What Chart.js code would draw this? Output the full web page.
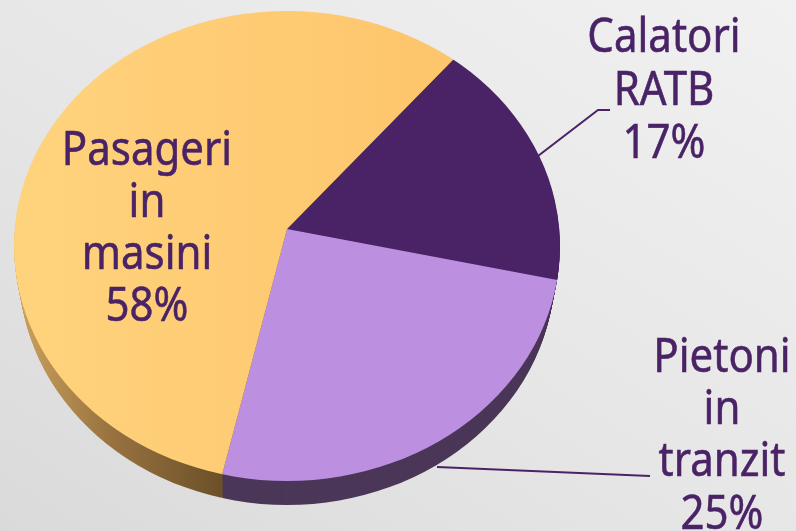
<!DOCTYPE html>
<html><head><meta charset="utf-8">
<style>
html,body{margin:0;padding:0;width:796px;height:531px;overflow:hidden;background:linear-gradient(32deg,#dadada 0%,#e6e6e6 45%,#f1f1f1 100%);}
canvas{display:block}
</style>
<script src="https://cdn.jsdelivr.net/npm/chart.js@4"></script>
</head><body><canvas id="c" width="796" height="531"></canvas>
<script>
const categories = ['Calatori RATB', 'Pietoni in tranzit', 'Pasageri in masini'];
const shares = [17, 25, 58];
const faceColors = ['#4a2366', '#bc8fe0', '#fecb73'];
const sideColors = ['#3c2250', '#4b3758', '#6b4f28'];
const labelLines = [
  {lines:['Calatori','RATB','17%'], x:664, y:[52,105,158]},
  {lines:['Pietoni','in','tranzit','25%'], x:722, y:[372,424,476,529]},
  {lines:['Pasageri','in','masini','58%'], x:147, y:[165,217,269,321]}
];
const leaders = [
  [[538,156],[598,110],[610,110]],
  [[437,467],[650,476]]
];
const TEXT = '#4a2366';
const E = {cx:287, cy:246, rx:273, ry:235};
const APEX_Y = 229;
const SX = 1.2*273/218, SUP = SX/1.17, SDOWN = SX/1.048, SXL = 1.334*SDOWN;
const DEPTH = 24, SHRINK = 5;

function paint(ctx, arcs, dy, shrink, fills){
  const cx = arcs[0].x, cy = arcs[0].y;
  const ay = APEX_Y+dy;
  [[0,0,796,ay,SX,SUP],[cx,ay,796-cx,531-ay,SX,SDOWN],[0,ay,cx,531-ay,SXL,SDOWN]].forEach(([l,top,w,h,sx,sy])=>{
    ctx.save();
    ctx.beginPath();
    ctx.rect(l,top,w,h);
    ctx.clip();
    ctx.beginPath();
    ctx.ellipse(E.cx,E.cy+dy,E.rx-shrink,E.ry,0,0,Math.PI*2);
    ctx.clip();
    ctx.translate(cx,cy+dy);
    ctx.scale(sx,sy);
    ctx.translate(-cx,-cy);
    arcs.forEach((a,i)=>{
      const o = a.options;
      a.options = Object.assign(Object.create(o),{backgroundColor:fills(ctx,i,X=>cx+(X-E.cx)/sx), borderWidth:0});
      a.draw(ctx);
      a.options = o;
    });
    ctx.restore();
  });
}

const pieDraw = {
  id:'pieDraw',
  beforeDatasetDraw(chart,args){
    const ctx = chart.ctx, arcs = chart.getDatasetMeta(args.index).data;
    for(let d=DEPTH;d>=1;d--){
      paint(ctx,arcs,d,SHRINK*d/DEPTH,(c,i,ux)=>{
        if(i!==2) return sideColors[i];
        const g=c.createLinearGradient(ux(20),0,ux(225),0);
        g.addColorStop(0,'#c9a05c');g.addColorStop(0.45,'#97723f');g.addColorStop(1,sideColors[2]);
        return g;
      });
    }
    paint(ctx,arcs,0,0,(c,i,ux)=>{
      if(i!==2) return faceColors[i];
      const g=c.createLinearGradient(ux(14),0,ux(450),0);
      g.addColorStop(0,'#ffd37d');g.addColorStop(1,'#fdc56c');
      return g;
    });
    return false;
  },
  afterDraw(chart){
    const ctx = chart.ctx;
    ctx.save();
    ctx.strokeStyle = TEXT; ctx.lineWidth = 2;
    leaders.forEach(p=>{
      ctx.beginPath();
      p.forEach(([x,y],i)=>i?ctx.lineTo(x,y):ctx.moveTo(x,y));
      ctx.stroke();
    });
    ctx.fillStyle = TEXT;
    ctx.lineWidth = 0.5;
    ctx.font = '42px "Noto Sans"';
    ctx.textAlign = 'center';
    ctx.textBaseline = 'alphabetic';
    labelLines.forEach(l=>l.lines.forEach((t,i)=>{
      ctx.save();
      ctx.translate(l.x,l.y[i]);
      ctx.scale(1,1.12);
      ctx.fillText(t,0,0);
      ctx.strokeText(t,0,0);
      ctx.restore();
    }));
    ctx.restore();
  }
};

new Chart(document.getElementById('c'),{
  type:'pie',
  data:{labels:categories,datasets:[{data:shares,backgroundColor:faceColors,borderWidth:0}]},
  options:{
    responsive:false,animation:false,rotation:40,radius:218,
    layout:{padding:{left:0,top:0,right:222,bottom:73}},
    plugins:{legend:{display:false},tooltip:{enabled:false}}
  },
  plugins:[pieDraw]
});
</script></body></html>
